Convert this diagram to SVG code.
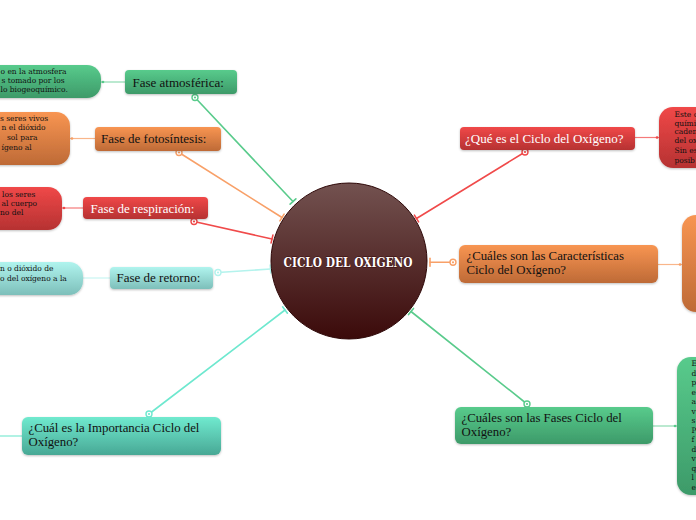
<svg xmlns="http://www.w3.org/2000/svg" width="696" height="520" viewBox="0 0 696 520">
<defs>
<linearGradient id="gGreen" x1="0" y1="0" x2="0" y2="1"><stop offset="0" stop-color="#58cb8c"/><stop offset="1" stop-color="#3d9a69"/></linearGradient>
<linearGradient id="gOrange" x1="0" y1="0" x2="0" y2="1"><stop offset="0" stop-color="#f89552"/><stop offset="1" stop-color="#be6a36"/></linearGradient>
<linearGradient id="gRed" x1="0" y1="0" x2="0" y2="1"><stop offset="0" stop-color="#f04848"/><stop offset="1" stop-color="#b63232"/></linearGradient>
<linearGradient id="gTeal" x1="0" y1="0" x2="0" y2="1"><stop offset="0" stop-color="#b0f4ee"/><stop offset="1" stop-color="#7dbfba"/></linearGradient>
<linearGradient id="gAqua" x1="0" y1="0" x2="0" y2="1"><stop offset="0" stop-color="#70eacf"/><stop offset="1" stop-color="#48a895"/></linearGradient>
<linearGradient id="gCore" x1="0" y1="0" x2="0" y2="1"><stop offset="0" stop-color="#735250"/><stop offset="1" stop-color="#3b0a0a"/></linearGradient>
<filter id="sh" x="-10%" y="-20%" width="120%" height="150%"><feDropShadow dx="0" dy="1" stdDeviation="1" flood-color="#000" flood-opacity="0.25"/></filter>
</defs>
<style>
.n{font-family:"Liberation Serif","Times New Roman",serif;font-size:13px;fill:#111}
.m{font-size:12.8px}
.w{fill:#fff}
.s{font-family:"DejaVu Serif","Liberation Serif",serif;font-size:7.5px;fill:#111}
.cn{fill:none;stroke-width:1.6;stroke-linecap:round}
.lf{fill:none;stroke-width:1.2}
.ring{fill:#fff;stroke-width:1.4}
</style>
<rect width="696" height="520" fill="#fff"/>

<g id="connectors">
<g stroke="#5acb8c" class="cn"><line x1="195" y1="97.5" x2="293" y2="201.5"/><line x1="290.1" y1="204.2" x2="295.9" y2="198.8"/></g>
<circle cx="195" cy="97.5" r="3" class="ring" stroke="#5acb8c"/><circle cx="195" cy="97.5" r="1.1" fill="#5acb8c"/>
<g stroke="#f8a068" class="cn"><line x1="179" y1="152.5" x2="282" y2="217.5"/><line x1="279.9" y1="220.9" x2="284.1" y2="214.1"/></g>
<circle cx="179" cy="152.5" r="3" class="ring" stroke="#f8a068"/><circle cx="179" cy="152.5" r="1.1" fill="#f8a068"/>
<g stroke="#f04a4a" class="cn"><line x1="194" y1="221.5" x2="272" y2="239"/><line x1="271.1" y1="242.9" x2="272.9" y2="235.1"/></g>
<circle cx="194" cy="221.5" r="3" class="ring" stroke="#f04a4a"/><circle cx="194" cy="221.5" r="1.1" fill="#f04a4a"/>
<g stroke="#b4f3ed" class="cn"><line x1="218" y1="272.5" x2="270.5" y2="269"/><line x1="270.8" y1="273" x2="270.2" y2="265"/></g>
<circle cx="218" cy="272.5" r="3" class="ring" stroke="#b4f3ed"/><circle cx="218" cy="272.5" r="1.1" fill="#b4f3ed"/>
<g stroke="#6ee8cf" class="cn"><line x1="149" y1="414" x2="285" y2="310"/><line x1="287.4" y1="313.2" x2="282.6" y2="306.8"/></g>
<circle cx="149" cy="414" r="3" class="ring" stroke="#6ee8cf"/><circle cx="149" cy="414" r="1.1" fill="#6ee8cf"/>
<g stroke="#f04a4a" class="cn"><line x1="525" y1="152" x2="416.5" y2="218.5"/><line x1="414.4" y1="215.1" x2="418.6" y2="221.9"/></g>
<circle cx="525" cy="152" r="3" class="ring" stroke="#f04a4a"/><circle cx="525" cy="152" r="1.1" fill="#f04a4a"/>
<g stroke="#f8a068" class="cn"><line x1="453" y1="262.3" x2="430" y2="262.3"/><line x1="430" y1="258.3" x2="430" y2="266.3"/></g>
<circle cx="453" cy="262.3" r="3" class="ring" stroke="#f8a068"/><circle cx="453" cy="262.3" r="1.1" fill="#f8a068"/>
<g stroke="#5acb8c" class="cn"><line x1="527" y1="404" x2="411" y2="311.5"/><line x1="413.5" y1="308.4" x2="408.5" y2="314.6"/></g>
<circle cx="527" cy="404" r="3" class="ring" stroke="#5acb8c"/><circle cx="527" cy="404" r="1.1" fill="#5acb8c"/>
<line x1="101" y1="82" x2="125" y2="82" class="lf" stroke="#8edbb1"/><circle cx="103" cy="82" r="1.3" fill="#5acb8c"/>
<line x1="70" y1="138.5" x2="95" y2="138.5" class="lf" stroke="#f9b68a"/><circle cx="72" cy="138.5" r="1.3" fill="#f8a068"/>
<line x1="62" y1="208" x2="83" y2="208" class="lf" stroke="#f57a7a"/><circle cx="64" cy="208" r="1.3" fill="#f04a4a"/>
<line x1="83" y1="278" x2="110" y2="278" class="lf" stroke="#c8f6f2"/>
<line x1="0" y1="436" x2="22" y2="436" class="lf" stroke="#7ee9d3"/>
<line x1="635" y1="137.5" x2="659" y2="137.5" class="lf" stroke="#f57a7a"/><circle cx="657" cy="137.5" r="1.3" fill="#f04a4a"/>
<line x1="658" y1="264.5" x2="682" y2="264.5" class="lf" stroke="#f9b68a"/><circle cx="680" cy="264.5" r="1.3" fill="#f8a068"/>
<line x1="653" y1="426" x2="677" y2="426" class="lf" stroke="#8edbb1"/><circle cx="675" cy="426" r="1.3" fill="#5acb8c"/>
</g>

<g id="center">
<circle cx="349" cy="261" r="78" fill="url(#gCore)" stroke="#2e0808" stroke-width="1"/>
<text x="283.5" y="266.5" textLength="129" lengthAdjust="spacingAndGlyphs" style="font-family:'DejaVu Serif',serif;font-weight:bold;font-size:13px;fill:#fff;stroke:#3a0a0a;stroke-width:0.8;paint-order:stroke">CICLO DEL OXIGENO</text>
</g>

<g id="leaf-atmosferica">
<rect x="-40" y="65" width="141" height="33" rx="14" fill="url(#gGreen)" filter="url(#sh)"/>
<text class="s"><tspan x="0.5" y="73.8">o en la atmosfera</tspan><tspan x="1.5" y="83.2">s tomado por los</tspan><tspan x="0.5" y="92.4">lo biogeoquímico.</tspan></text>
</g>
<g id="fase-atmosferica">
<rect x="125" y="70" width="112" height="24" rx="4" fill="url(#gGreen)" filter="url(#sh)"/>
<text x="132.5" y="86.5" class="n">Fase atmosférica:</text>
</g>

<g id="leaf-fotosintesis">
<rect x="-40" y="112" width="110" height="53" rx="14" fill="url(#gOrange)" filter="url(#sh)"/>
<text class="s"><tspan x="0" y="120.7">s seres vivos</tspan><tspan x="1.5" y="130">n el dióxido</tspan><tspan x="7" y="139.8">sol para</tspan><tspan x="1.5" y="149.5">ígeno al</tspan></text>
</g>
<g id="fase-fotosintesis">
<rect x="95" y="127" width="126" height="24" rx="4" fill="url(#gOrange)" filter="url(#sh)"/>
<text x="101" y="143" class="n">Fase de fotosíntesis:</text>
</g>

<g id="leaf-respiracion">
<rect x="-40" y="187" width="102" height="43" rx="14" fill="url(#gRed)" filter="url(#sh)"/>
<text class="s"><tspan x="2" y="196.8">los seres</tspan><tspan x="1.5" y="205.8">al cuerpo</tspan><tspan x="0" y="215">no del</tspan></text>
</g>
<g id="fase-respiracion">
<rect x="83" y="197" width="125" height="22" rx="4" fill="url(#gRed)" filter="url(#sh)"/>
<text x="90.5" y="212.5" class="n w">Fase de respiración:</text>
</g>

<g id="leaf-retorno">
<rect x="-40" y="262" width="123" height="33" rx="14" fill="url(#gTeal)" filter="url(#sh)"/>
<text class="s"><tspan x="0" y="270.7">n o dióxido de</tspan><tspan x="0" y="280.7">o del oxígeno a la</tspan></text>
</g>
<g id="fase-retorno">
<rect x="110" y="267" width="103" height="22" rx="4" fill="url(#gTeal)" filter="url(#sh)"/>
<text x="116.5" y="282" class="n">Fase de retorno:</text>
</g>

<g id="importancia">
<rect x="22" y="417" width="199" height="38" rx="6" fill="url(#gAqua)" filter="url(#sh)"/>
<text class="n m"><tspan x="28.5" y="431.5">¿Cuál es la Importancia Ciclo del</tspan><tspan x="28.5" y="445.5">Oxígeno?</tspan></text>
</g>

<g id="que-es">
<rect x="460" y="127" width="175" height="23" rx="4" fill="url(#gRed)" filter="url(#sh)"/>
<text x="465" y="142.5" class="n w">¿Qué es el Ciclo del Oxígeno?</text>
</g>
<g id="leaf-que-es">
<rect x="659" y="107" width="80" height="61" rx="14" fill="url(#gRed)" filter="url(#sh)"/>
<text class="s w"><tspan x="674.5" y="117">Este c</tspan><tspan x="674.5" y="125.5">quími</tspan><tspan x="674.5" y="134">caden</tspan><tspan x="674.5" y="143.3">del ox</tspan><tspan x="674.5" y="152.6">Sin es</tspan><tspan x="674.5" y="163">posib</tspan></text>
</g>

<g id="caracteristicas">
<rect x="459" y="245" width="199" height="38" rx="6" fill="url(#gOrange)" filter="url(#sh)"/>
<text class="n m"><tspan x="466.5" y="259.5">¿Cuáles son las Características</tspan><tspan x="466.5" y="273.5">Ciclo del Oxígeno?</tspan></text>
</g>
<g id="leaf-caracteristicas">
<rect x="682" y="215" width="60" height="97" rx="14" fill="url(#gOrange)" filter="url(#sh)"/>
</g>

<g id="fases">
<rect x="455" y="407" width="198" height="37" rx="6" fill="url(#gGreen)" filter="url(#sh)"/>
<text class="n m"><tspan x="461.5" y="421.5">¿Cuáles son las Fases Ciclo del</tspan><tspan x="461.5" y="435.5">Oxígeno?</tspan></text>
</g>
<g id="leaf-fases">
<rect x="677" y="357" width="60" height="138" rx="14" fill="url(#gGreen)" filter="url(#sh)"/>
<text class="s"><tspan x="691.5" y="366">E</tspan><tspan x="691.5" y="375.5">d</tspan><tspan x="691.5" y="385">p</tspan><tspan x="691.5" y="394.5">e</tspan><tspan x="691.5" y="404">a</tspan><tspan x="691.5" y="413.5">v</tspan><tspan x="691.5" y="423">s</tspan><tspan x="691.5" y="432.5">P</tspan><tspan x="691.5" y="442">f</tspan><tspan x="691.5" y="451.5">d</tspan><tspan x="691.5" y="461">v</tspan><tspan x="691.5" y="470.5">q</tspan><tspan x="691.5" y="480">l</tspan><tspan x="691.5" y="489.5">e</tspan></text>
</g>
</svg>
